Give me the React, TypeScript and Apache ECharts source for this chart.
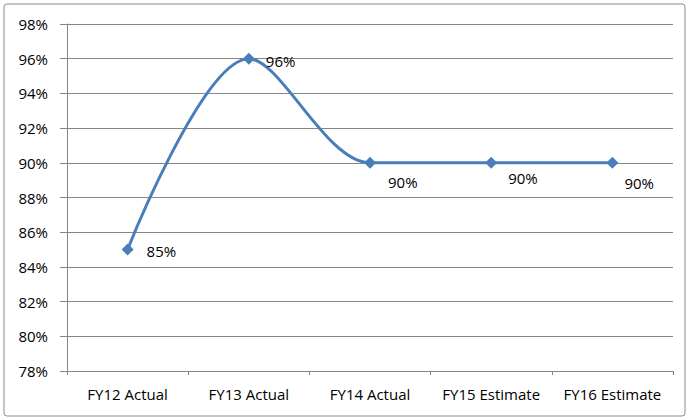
import React, { useEffect, useRef } from "react";
import * as echarts from "echarts";

const categories = ["FY12 Actual", "FY13 Actual", "FY14 Actual", "FY15 Estimate", "FY16 Estimate"];
const values = [85, 96, 90, 90, 90];
const labelOffsets: [number, number][] = [[13, 1], [11, 2], [12, 19], [11, 15], [6, 20]];

export default function App() {
  const ref = useRef<HTMLDivElement>(null);
  useEffect(() => {
    const chart = echarts.init(ref.current!, null, { renderer: "svg" });
    const font = "'Open Sans', 'Noto Sans', sans-serif";
    chart.setOption({
      animation: false,
      backgroundColor: "#fff",
      grid: { left: 67, right: 15, top: 24, bottom: 48 },
      graphic: [
        {
          type: "rect",
          shape: { x: 4, y: 4, width: 681, height: 412, r: 3 },
          style: { fill: "none", stroke: "#8c8c8c", lineWidth: 1 },
          silent: true,
        },
      ],
      xAxis: {
        type: "category",
        data: categories,
        boundaryGap: true,
        axisLine: { lineStyle: { color: "#868686", width: 1 } },
        axisTick: { show: true, length: 4, lineStyle: { color: "#868686" } },
        axisLabel: { color: "#000", fontFamily: font, fontSize: 15, margin: 15, interval: 0 },
      },
      yAxis: {
        type: "value",
        min: 78,
        max: 98,
        interval: 2,
        axisLine: { show: true, lineStyle: { color: "#868686", width: 1 } },
        axisTick: { show: true, length: 7, lineStyle: { color: "#868686" } },
        splitLine: { lineStyle: { color: "#868686", width: 1 } },
        axisLabel: {
          color: "#000",
          fontFamily: font,
          fontSize: 15,
          margin: 19,
          formatter: (v: number) => v + "%",
        },
      },
      series: [
        {
          type: "line",
          data: values.map((v, i) => ({
            value: v,
            label: { offset: labelOffsets[i] },
          })),
          smooth: 0.32,
          symbol: "diamond",
          symbolSize: 12,
          lineStyle: { color: "#4A7EBB", width: 3 },
          itemStyle: { color: "#4A7EBB" },
          label: {
            show: true,
            position: "right",
            distance: 0,
            color: "#000",
            fontFamily: font,
            fontSize: 15,
            formatter: (p: any) => p.value + "%",
          },
        },
      ],
    });
    return () => chart.dispose();
  }, []);
  return (
    <div
      ref={ref}
      style={{ position: "fixed", left: 0, top: 0, width: 688, height: 419 }}
    />
  );
}
